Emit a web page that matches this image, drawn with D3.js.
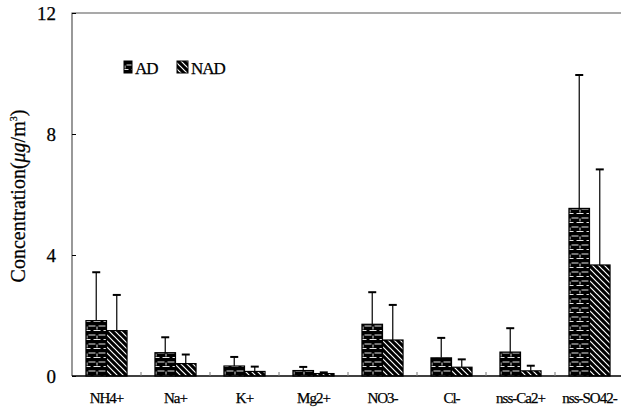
<!DOCTYPE html>
<html lang="en">
<head>
<meta charset="UTF-8"/>
<title>Ion concentrations AD vs NAD</title>
<script src="https://d3js.org/d3.v7.min.js"></script>
<style>
  body { margin: 0; background: #fff; }
  text { font-family: "Liberation Serif", "DejaVu Serif", serif; fill: #000; stroke: #000; stroke-width: 0.25px; }
</style>
</head>
<body>
<script>
    // Data
    var categories = ["NH4+", "Na+", "K+", "Mg2+", "NO3-", "Cl-", "nss-Ca2+", "nss-SO42-"];
    var series = ["AD", "NAD"];
    var adMean = [1.83, 0.77, 0.33, 0.18, 1.71, 0.60, 0.79, 5.54];
    var nadMean = [1.50, 0.41, 0.15, 0.08, 1.19, 0.29, 0.17, 3.67];
    var adSd = [1.60, 0.51, 0.30, 0.12, 1.06, 0.66, 0.79, 4.41];
    var nadSd = [1.18, 0.30, 0.16, 0.04, 1.16, 0.26, 0.17, 3.16];
    var yTicks = [0, 4, 8, 12];

    var w = 622, h = 416;
    var plotL = 72, plotR = 624, plotT = 13, plotB = 376;

    var svg = d3.select("body").append("svg")
        .attr("width", w)
        .attr("height", h);

    // Fill patterns
    var defs = svg.append("defs");
    var brick = defs.append("pattern")
        .attr("id", "brick")
        .attr("patternUnits", "userSpaceOnUse")
        .attr("width", 10).attr("height", 9);
    brick.append("rect").attr("width", 10).attr("height", 9).attr("fill", "#000");
    brick.append("path")
        .attr("d", "M0,2H3.5M6.5,2H10M1.5,6.5H8.5M5,2.5V5.5")
        .attr("stroke", "#fff").attr("stroke-width", 0.9).attr("fill", "none");

    var hatch = defs.append("pattern")
        .attr("id", "hatch")
        .attr("patternUnits", "userSpaceOnUse")
        .attr("width", 6).attr("height", 6);
    hatch.append("rect").attr("width", 6).attr("height", 6).attr("fill", "#000");
    hatch.append("path")
        .attr("d", "M-1.5,-1.5L7.5,7.5M-1.5,4.5L1.5,7.5M4.5,-1.5L7.5,1.5")
        .attr("stroke", "#fff").attr("stroke-width", 1.2);

    var fills = { AD: "url(#brick)", NAD: "url(#hatch)" };

    // Scales
    var x = d3.scaleBand().domain(categories).range([plotL, plotR]).padding(0);
    var xSub = d3.scaleBand().domain(series).range([0, x.bandwidth()])
        .paddingInner(0).paddingOuter(0.68);
    var y = d3.scaleLinear().domain([0, 12]).range([plotB, plotT]);

    var rows = categories.map(function (c, i) {
        return { cat: c, values: [
            { key: "AD", mean: adMean[i], sd: adSd[i] },
            { key: "NAD", mean: nadMean[i], sd: nadSd[i] }
        ] };
    });

    var groups = svg.selectAll("g.cat")
        .data(rows)
        .enter().append("g")
        .attr("class", "cat")
        .attr("transform", function (d) { return "translate(" + x(d.cat) + ",0)"; });

    // Error bars (upper only)
    var err = groups.selectAll("g.err")
        .data(function (d) { return d.values; })
        .enter().append("g").attr("class", "err");
    err.append("line")
        .attr("x1", function (d) { return xSub(d.key) + xSub.bandwidth() / 2; })
        .attr("x2", function (d) { return xSub(d.key) + xSub.bandwidth() / 2; })
        .attr("y1", function (d) { return y(d.mean); })
        .attr("y2", function (d) { return y(d.mean + d.sd); })
        .attr("stroke", "#000").attr("stroke-width", 1.2);
    err.append("line")
        .attr("x1", function (d) { return xSub(d.key) + xSub.bandwidth() / 2 - 4; })
        .attr("x2", function (d) { return xSub(d.key) + xSub.bandwidth() / 2 + 4; })
        .attr("y1", function (d) { return y(d.mean + d.sd); })
        .attr("y2", function (d) { return y(d.mean + d.sd); })
        .attr("stroke", "#000").attr("stroke-width", 2);

    // Bars
    groups.selectAll("rect")
        .data(function (d) { return d.values; })
        .enter().append("rect")
        .attr("x", function (d) { return xSub(d.key); })
        .attr("y", function (d) { return y(d.mean); })
        .attr("width", xSub.bandwidth())
        .attr("height", function (d) { return y(0) - y(d.mean); })
        .attr("fill", function (d) { return fills[d.key]; })
        .attr("stroke", "#000").attr("stroke-width", 1.2);

    // Frame: left axis and top line
    svg.append("path")
        .attr("d", "M" + plotL + "," + plotB + "V" + plotT + "H" + (w - 1))
        .attr("stroke", "#555").attr("stroke-width", 1.2).attr("fill", "none");

    // Y axis ticks (inside) and labels
    var yAxis = d3.axisLeft(y).tickValues(yTicks).tickSizeInner(-4).tickSizeOuter(0).tickPadding(16);
    var gy = svg.append("g").attr("transform", "translate(" + plotL + ",0)").call(yAxis);
    gy.select(".domain").remove();
    gy.selectAll("text").attr("font-size", 19).attr("font-family", "Liberation Serif");

    // X axis: ticks between categories, pointing up
    var xAxis = d3.axisBottom(x).tickSize(0).tickPadding(16);
    var gx = svg.append("g").attr("transform", "translate(0," + plotB + ")").call(xAxis);
    gx.select(".domain").attr("stroke", "#000").attr("stroke-width", 1.5)
        .attr("d", "M" + plotL + ",0H" + (w - 1));
    gx.selectAll("text").attr("font-size", 15).attr("letter-spacing", "-1px")
        .attr("font-family", "Liberation Serif");
    svg.append("g").selectAll("line")
        .data(categories.slice(1))
        .enter().append("line")
        .attr("x1", function (d) { return x(d); })
        .attr("x2", function (d) { return x(d); })
        .attr("y1", plotB).attr("y2", plotB - 4)
        .attr("stroke", "#777");

    // Y axis title
    var yt = svg.append("text")
        .attr("transform", "translate(25,196) rotate(-90)")
        .attr("text-anchor", "middle")
        .attr("font-size", 20);
    yt.append("tspan").text("Concentration(");
    yt.append("tspan").attr("font-style", "italic").text("\u03bcg");
    yt.append("tspan").text("/m");
    yt.append("tspan").attr("font-size", 10).attr("dy", -8).text("3");
    yt.append("tspan").attr("dy", 8).text(")");

    // Legend
    var legend = svg.append("g");
    var items = [
        { key: "AD", x: 124, w: 8 },
        { key: "NAD", x: 177, w: 11 }
    ];
    items.forEach(function (it) {
        legend.append("rect")
            .attr("x", it.x).attr("y", 61)
            .attr("width", it.w).attr("height", 12)
            .attr("fill", fills[it.key])
            .attr("stroke", "#000");
        legend.append("text")
            .attr("x", it.x + it.w + 3).attr("y", 74)
            .attr("font-size", 17).attr("letter-spacing", "-1px")
            .text(it.key);
    });
</script>
</body>
</html>
